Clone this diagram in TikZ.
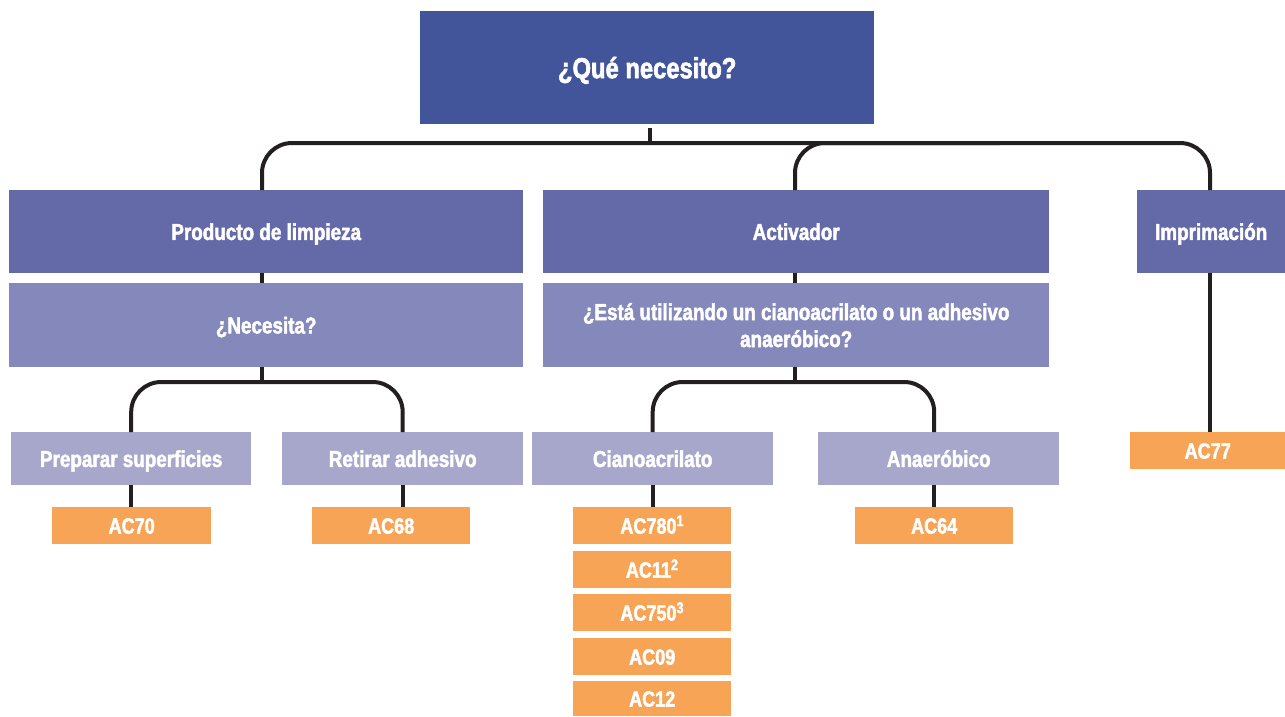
\documentclass[tikz,border=0pt]{standalone}
\usepackage{fontspec}
\setmainfont{Liberation Sans}[FakeStretch=0.82, BoldFeatures={FakeBold=2}]
\definecolor{cA}{HTML}{42549A}
\definecolor{cB}{HTML}{646AA8}
\definecolor{cC}{HTML}{8488BA}
\definecolor{cD}{HTML}{A7A7CB}
\definecolor{cO}{HTML}{F7A457}
\definecolor{cL}{HTML}{231F20}
\begin{document}
\begin{tikzpicture}[x=1pt,y=-1pt,
  box/.style={draw=none, inner sep=0pt, text=white, align=center, anchor=north west,
    font=\bfseries\fontsize{23}{27}\selectfont},
  one/.style={text height=16.5pt, text depth=0pt},
  topbox/.style={box, fill=cA, text height=21pt, text depth=0pt, font=\bfseries\fontsize{29}{33}\selectfont},
  lvA/.style={box, one, fill=cB},
  lvB/.style={box, fill=cC},
  lvC/.style={box, one, fill=cD},
  prod/.style={box, fill=cO, text height=15.8pt, text depth=0pt, font=\bfseries\fontsize{22}{26}\selectfont},
  conn/.style={line width=4pt, draw=cL, rounded corners=30pt}]
\useasboundingbox (0,0) rectangle (1285,716);

\node[topbox, minimum width=454pt, minimum height=113pt] (top) at (420,11) {¿Qué necesito?};

\node[lvA, minimum width=514pt, minimum height=83pt] (pl) at (9,190) {Producto de limpieza};
\node[lvA, minimum width=506pt, minimum height=83pt] (act) at (543,190) {Activador};
\node[lvA, minimum width=148pt, minimum height=83pt] (imp) at (1137,190) {Imprimación};

\node[lvB, one, minimum width=514pt, minimum height=84pt] (nec) at (9,283) {¿Necesita?};
\node[lvB, minimum width=506pt, minimum height=84pt] (est) at (543,283) {¿Está utilizando un cianoacrilato o un adhesivo\\anaeróbico?};

\node[lvC, minimum width=240pt, minimum height=53pt] (ps) at (11,432) {Preparar superficies};
\node[lvC, minimum width=241pt, minimum height=53pt] (ra) at (282,432) {Retirar adhesivo};
\node[lvC, minimum width=241pt, minimum height=53pt] (cia) at (532,432) {Cianoacrilato};
\node[lvC, minimum width=241pt, minimum height=53pt] (ana) at (818,432) {Anaeróbico};
\node[prod, minimum width=155pt, minimum height=37pt] (ac77) at (1130,432) {AC77};

\node[prod, minimum width=159pt, minimum height=37pt] (ac70) at (52,507) {AC70};
\node[prod, minimum width=158pt, minimum height=37pt] (ac68) at (312,507) {AC68};
\node[prod, minimum width=158pt, minimum height=37pt] (ac780) at (573,507) {AC780\textsuperscript{1}};
\node[prod, minimum width=158pt, minimum height=37pt] (ac11) at (573,551) {AC11\textsuperscript{2}};
\node[prod, minimum width=158pt, minimum height=37pt] (ac750) at (573,594) {AC750\textsuperscript{3}};
\node[prod, minimum width=158pt, minimum height=37pt] (ac09) at (573,638) {AC09};
\node[prod, minimum width=158pt, minimum height=35pt] (ac12) at (573,681) {AC12};
\node[prod, minimum width=158pt, minimum height=37pt] (ac64) at (855,507) {AC64};

\coordinate (xl) at (262,0);
\coordinate (xa) at (795,0);
\coordinate (xr) at (1210,0);
\coordinate (h1) at (650,143);
\coordinate (h1b) at (1000,143);
\coordinate (h2) at (262,382);
\coordinate (h3) at (795,382);

% top tree
\draw[conn, shorten <=4pt] (top.south -| h1) -- (h1);
\draw[conn] (pl.north -| xl) |- (h1) -| (imp.north -| xr);
\draw[conn] (act.north -| xa) |- (h1b);
% between level boxes
\draw[conn] (pl.south -| xl) -- (nec.north -| xl);
\draw[conn] (act.south -| xa) -- (est.north -| xa);
% lower left tree
\draw[conn] (nec.south -| xl) -- (h2);
\draw[conn] (ps.north) |- (h2) -| (ra.north);
% lower right tree
\draw[conn] (est.south -| xa) -- (h3);
\draw[conn] (cia.north) |- (h3) -| (ana.north -| ac64.north);
% imprimacion
\draw[conn] (imp.south -| xr) -- (ac77.north -| xr);
% product stubs
\draw[conn] (ps.south) -- (ps.south |- ac70.north);
\draw[conn] (ra.south) -- (ra.south |- ac68.north);
\draw[conn] (cia.south) -- (cia.south |- ac780.north);
\draw[conn] (ana.south -| ac64.north) -- (ac64.north);
\end{tikzpicture}
\end{document}
